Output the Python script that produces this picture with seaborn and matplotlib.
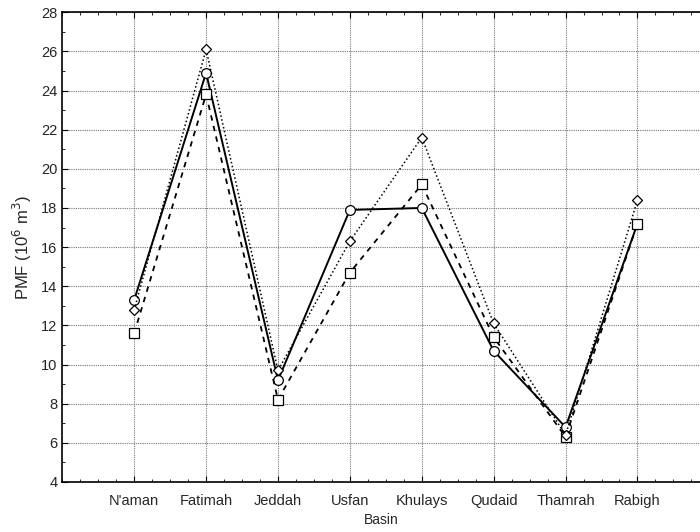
import seaborn as sns
import matplotlib.pyplot as plt
import matplotlib.ticker as ticker
import pandas as pd

basins = ["N'aman", "Fatimah", "Jeddah", "Usfan", "Khulays", "Qudaid", "Thamrah", "Rabigh"]
pmf_a = [13.3, 24.9, 9.2, 17.9, 18.0, 10.7, 6.8, 17.2]   # solid, circles
pmf_b = [11.6, 23.8, 8.2, 14.7, 19.2, 11.4, 6.3, 17.2]   # dashed, squares
pmf_c = [12.8, 26.1, 9.7, 16.3, 21.6, 12.1, 6.4, 18.4]   # dotted, diamonds

sns.set_style("ticks")
plt.rcParams['font.family'] = ['Liberation Sans', 'DejaVu Sans']

fig = plt.figure(figsize=(7, 5.32), dpi=100)
ax = fig.add_axes([0.089, 0.094, 0.911, 0.883])

series = [
    (pmf_a, '-', 'o', 7, 1.4, None),
    (pmf_b, '--', 's', 6.5, 1.3, (3, 3)),
    (pmf_c, ':', 'D', 4.8, 1.1, (1, 1.6)),
]
for vals, ls, mk, ms, lw, dashes in series:
    df = pd.DataFrame({'Basin': basins, 'PMF': vals})
    sns.lineplot(data=df, x='Basin', y='PMF', ax=ax, color='black', linestyle=ls,
                 linewidth=lw, marker=mk, markersize=ms, markerfacecolor='white',
                 markeredgecolor='black', markeredgewidth=0.9, sort=False)
    if dashes is not None:
        ax.lines[-1].set_dashes(dashes)

ax.set_xlim(-1, 7.87)
ax.set_ylim(4, 28)
ax.yaxis.set_major_locator(ticker.MultipleLocator(2))
ax.yaxis.set_minor_locator(ticker.MultipleLocator(1))
ax.xaxis.set_minor_locator(ticker.MultipleLocator(0.25))

ax.grid(True, which='major', color='#777777', linestyle=(0, (1, 1)), linewidth=0.8)
ax.tick_params(which='both', direction='in', top=True, right=False, labelsize=10.5, color='black')
ax.tick_params(which='major', length=4)
ax.tick_params(which='minor', length=2.5)
ax.tick_params(axis='x', pad=9)

for side in ['left', 'bottom', 'top']:
    ax.spines[side].set_visible(True)
    ax.spines[side].set_color('black')
    ax.spines[side].set_linewidth(1.2)
ax.spines['right'].set_visible(False)

ax.set_xlabel('Basin', fontsize=10, labelpad=3)
ax.set_ylabel('PMF (10$^6$ m$^3$)', fontsize=12, labelpad=5)

fig.savefig('out.png', dpi=100)
